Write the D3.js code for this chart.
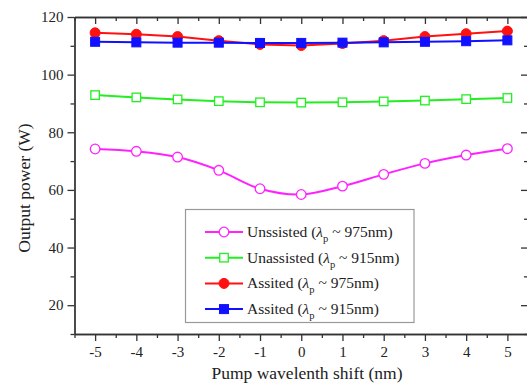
<!DOCTYPE html>
<html>
<head>
<meta charset="utf-8">
<script src="https://cdn.jsdelivr.net/npm/d3@7"></script>
<style>
  body { margin: 0; background: #fff; }
  svg text { font-family: "Liberation Serif", "Times New Roman", serif; fill: #222; }
</style>
</head>
<body>
<div id="chart"></div>
<script>
// donnees
var shift = [-5, -4, -3, -2, -1, 0, 1, 2, 3, 4, 5];
var unassisted975 = [74.2, 73.4, 71.4, 66.8, 60.4, 58.4, 61.3, 65.4, 69.2, 72.1, 74.3];
var unassisted915 = [92.9, 92.1, 91.4, 90.8, 90.4, 90.3, 90.4, 90.7, 91.0, 91.5, 91.9];
var assisted975 = [114.5, 114.0, 113.2, 111.8, 110.5, 110.1, 110.8, 111.8, 113.2, 114.2, 115.1];
var assisted915 = [111.4, 111.2, 111.1, 111.1, 111.0, 111.0, 111.1, 111.2, 111.4, 111.6, 111.9];
var yMajor = [20, 40, 60, 80, 100, 120];
var yMinor = [10, 30, 50, 70, 90, 110];
var xMinor = [-5.5, -4.5, -3.5, -2.5, -1.5, -0.5, 0.5, 1.5, 2.5, 3.5, 4.5, 5.5];

var series = [
  { name: "Unssisted", lp: "975nm", values: unassisted975, color: "#ff22ff", shape: "circle", filled: false, smooth: true },
  { name: "Unassisted", lp: "915nm", values: unassisted915, color: "#22ee22", shape: "square", filled: false, smooth: false },
  { name: "Assited", lp: "975nm", values: assisted975, color: "#ff1111", shape: "circle", filled: true, smooth: false },
  { name: "Assited", lp: "915nm", values: assisted915, color: "#1111ff", shape: "square", filled: true, smooth: false }
];

var W = 527, H = 389;
var pLeft = 74.5, pRight = 528, pTop = 17, pBottom = 334;
var serif = '"Liberation Serif", "Times New Roman", serif';

var svg = d3.select("#chart").append("svg")
    .attr("width", W).attr("height", H);

var x = d3.scaleLinear().domain([-5.5, 5.5]).range([pLeft, pRight]);
var y = d3.scaleLinear().domain([10, 120]).range([pBottom, pTop]);

var axisCol = "#333";

function styleAxis(g){
    g.attr("font-family", serif).attr("font-size", 15);
    g.selectAll("path, line").attr("stroke", axisCol).attr("stroke-width", 1.3);
    g.selectAll("text").attr("fill", "#222");
}

// axes : ticks majeurs et mineurs
function fmt(d){ return d < 0 ? "-" + Math.abs(d) : String(d); }

svg.append("g").attr("transform", "translate(0," + pBottom + ")")
    .call(d3.axisBottom(x).tickValues(shift).tickSize(7).tickSizeOuter(0).tickPadding(5).tickFormat(fmt))
    .call(styleAxis);
svg.append("g").attr("transform", "translate(0," + pBottom + ")")
    .call(d3.axisBottom(x).tickValues(xMinor).tickSize(4).tickSizeOuter(0).tickFormat(""))
    .call(styleAxis);

svg.append("g").attr("transform", "translate(0," + pTop + ")")
    .call(d3.axisBottom(x).tickValues(shift).tickSize(7).tickSizeOuter(0).tickFormat(""))
    .call(styleAxis);
svg.append("g").attr("transform", "translate(0," + pTop + ")")
    .call(d3.axisBottom(x).tickValues(xMinor).tickSize(4).tickSizeOuter(0).tickFormat(""))
    .call(styleAxis);

svg.append("g").attr("transform", "translate(" + pLeft + ",0)")
    .call(d3.axisLeft(y).tickValues(yMajor).tickSize(7).tickSizeOuter(0).tickPadding(4))
    .call(styleAxis);
svg.append("g").attr("transform", "translate(" + pLeft + ",0)")
    .call(d3.axisLeft(y).tickValues(yMinor).tickSize(4).tickSizeOuter(0).tickFormat(""))
    .call(styleAxis);

svg.append("g").attr("transform", "translate(" + pRight + ",0)")
    .call(d3.axisRight(y).tickValues(yMajor).tickSize(-7).tickSizeOuter(0).tickFormat(""))
    .call(styleAxis);
svg.append("g").attr("transform", "translate(" + pRight + ",0)")
    .call(d3.axisRight(y).tickValues(yMinor).tickSize(-4).tickSizeOuter(0).tickFormat(""))
    .call(styleAxis);

// titres
svg.append("text")
    .attr("x", 307).attr("y", 379)
    .attr("text-anchor", "middle").attr("font-size", 17.5)
    .text("Pump wavelenth shift (nm)");
svg.append("text")
    .attr("transform", "translate(30,188) rotate(-90)")
    .attr("text-anchor", "middle").attr("font-size", 17.5)
    .text("Output power (W)");

// courbes
function drawMarker(g, s, cx, cy){
    var fill = s.filled ? s.color : "#fff";
    if (s.shape == "circle") {
        g.append("circle").attr("cx", cx).attr("cy", cy).attr("r", s.filled ? 5 : 4.8)
            .attr("fill", fill).attr("stroke", s.color).attr("stroke-width", s.filled ? 1 : 1.3);
    } else {
        var a = s.filled ? 9 : 8.5;
        g.append("rect").attr("x", cx - a/2).attr("y", cy - a/2).attr("width", a).attr("height", a)
            .attr("fill", fill).attr("stroke", s.color).attr("stroke-width", s.filled ? 1 : 1.3);
    }
}

series.forEach(function(s){
    var pts = shift.map(function(d, i){ return [d, s.values[i]]; });
    var line = d3.line()
        .x(function(d){ return x(d[0]); })
        .y(function(d){ return y(d[1]); })
        .curve(s.smooth ? d3.curveCatmullRom.alpha(0.5) : d3.curveLinear);
    var g = svg.append("g");
    g.append("path").datum(pts).attr("d", line)
        .attr("fill", "none").attr("stroke", s.color).attr("stroke-width", 2);
    pts.forEach(function(p){ drawMarker(g, s, x(p[0]), y(p[1])); });
});

// legende
var lg = svg.append("g");
lg.append("rect").attr("x", 185.5).attr("y", 209.5).attr("width", 228.5).attr("height", 113)
    .attr("fill", "#fff").attr("stroke", "#999").attr("stroke-width", 1.2);

series.forEach(function(s, i){
    var cy = 232 + i * 25.7;
    lg.append("line").attr("x1", 205).attr("x2", 243).attr("y1", cy).attr("y2", cy)
        .attr("stroke", s.color).attr("stroke-width", 2);
    drawMarker(lg, s, 224, cy);
    var t = lg.append("text").attr("x", 247).attr("y", cy + 5).attr("font-size", 15.5);
    t.append("tspan").text(s.name + " (");
    t.append("tspan").attr("font-style", "italic").text("λ");
    t.append("tspan").attr("font-size", 10.5).attr("dy", 5).text("p");
    t.append("tspan").attr("dy", -5).text(" ~ " + s.lp + ")");
});
</script>
</body>
</html>
